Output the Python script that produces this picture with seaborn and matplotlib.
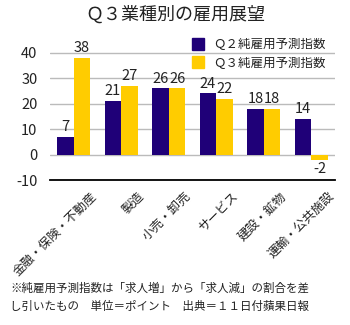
import matplotlib
matplotlib.use("Agg")
import matplotlib.pyplot as plt
import matplotlib.transforms as mtransforms
from matplotlib.lines import Line2D
import seaborn as sns
import pandas as pd

categories = ["金融・保険・不動産", "製造", "小売・卸売", "サービス", "建設・鉱物", "運輸・公共施設"]
q2_values = [7, 21, 26, 24, 18, 14]
q3_values = [38, 27, 26, 22, 18, -2]
series_names = ["Ｑ２純雇用予測指数", "Ｑ３純雇用予測指数"]
yticks = [-10, 0, 10, 20, 30, 40]
title = "Ｑ３業種別の雇用展望"
footnote = "※純雇用予測指数は「求人増」から「求人減」の割合を差\nし引いたもの　単位＝ポイント　出典＝１１日付蘋果日報"

colors = ["#1F0078", "#FFCC00"]

sns.set_theme(style="white")
plt.rcParams["font.family"] = ["Noto Sans CJK JP", "DejaVu Sans"]

df = pd.DataFrame({
    "cat": categories * 2,
    "val": q2_values + q3_values,
    "series": [series_names[0]] * len(categories) + [series_names[1]] * len(categories),
})

fig = plt.figure(figsize=(3.5, 3.25), dpi=100)
ax = fig.add_axes([0.143, 0.446, 0.814, 0.431])

sns.barplot(data=df, x="cat", y="val", hue="series", palette=colors,
            width=0.7, saturation=1, ax=ax, legend=False, linewidth=0)

ax.set_ylim(-10, 45)
ax.set_yticks(yticks)
ax.set_yticklabels([str(t) for t in yticks], fontsize=10.5, color="#222222")
ax.yaxis.grid(True, color="#BBBBBB", linewidth=1)
ax.set_axisbelow(True)
for s in ["top", "right", "left"]:
    ax.spines[s].set_visible(False)
ax.spines["bottom"].set_color("black")
ax.spines["bottom"].set_linewidth(1.3)
ax.tick_params(axis="y", length=0, pad=9)
ax.tick_params(axis="x", length=0, pad=4)
ax.set_xlabel("")
ax.set_ylabel("")

ax.set_xticks(range(len(categories)))
ax.set_xticklabels(categories, rotation=45, ha="right", rotation_mode="anchor",
                   fontsize=9, color="#222222")
offset = mtransforms.ScaledTranslation(16 / 100, -4 / 100, fig.dpi_scale_trans)
for lbl in ax.get_xticklabels():
    lbl.set_transform(lbl.get_transform() + offset)

for cont in ax.containers:
    labels = [f"{v:g}" for v in cont.datavalues]
    ax.bar_label(cont, labels=labels, padding=2, fontsize=10.5, color="#222222")

handles = [Line2D([0], [0], marker="s", color="none", markerfacecolor=c,
                  markeredgecolor=c, markersize=8) for c in colors]
ax.legend(handles, series_names, loc="upper right", bbox_to_anchor=(0.985, 1.05),
          frameon=False, fontsize=9, handlelength=1.0, handletextpad=0.7,
          labelspacing=0.45, borderaxespad=0, labelcolor="#222222")

fig.text(0.5, 0.955, title, ha="center", va="center", fontsize=13, color="#222222")
fig.text(0.03, 0.085, footnote, ha="left", va="center", fontsize=8.3,
         linespacing=1.45, color="#222222")

fig.savefig("out.png", dpi=100, facecolor="white")
